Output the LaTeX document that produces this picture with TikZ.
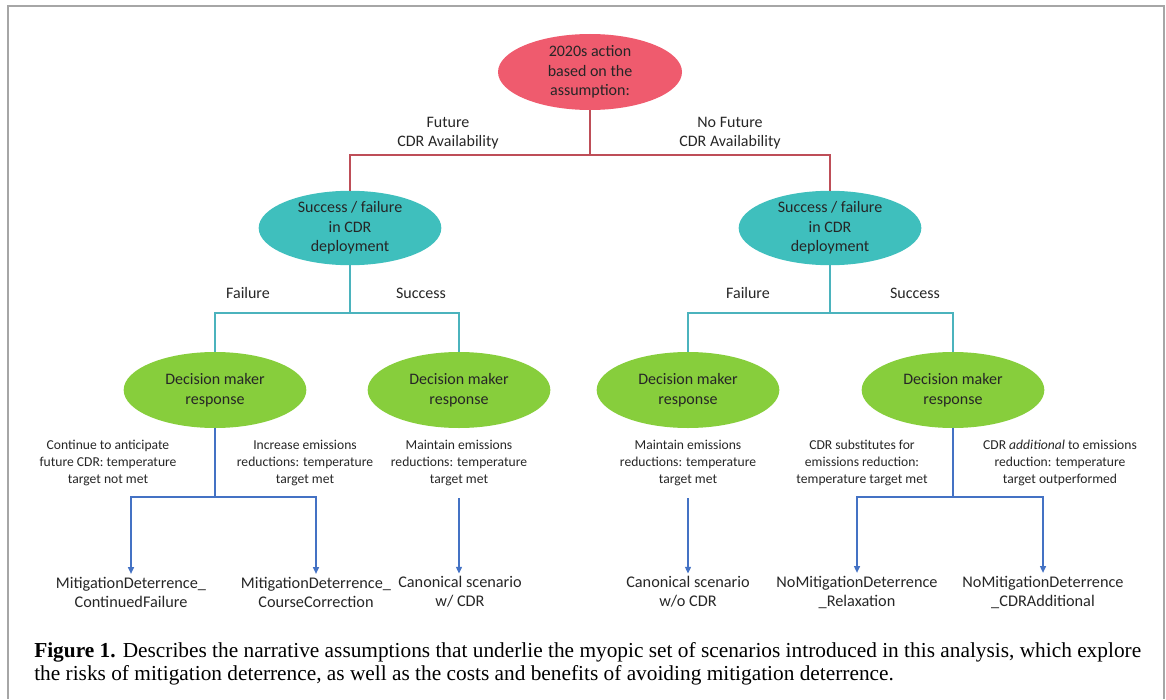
\documentclass[tikz,border=0pt]{standalone}
\usepackage{fontspec}
\setmainfont{Carlito}
\newfontfamily\capfont{Liberation Serif}
\usetikzlibrary{shapes.geometric,arrows.meta}

\definecolor{rosered}{HTML}{EF5B6E}
\definecolor{tealfill}{HTML}{3FBFBD}
\definecolor{leaf}{HTML}{87CE3C}
\definecolor{redline}{HTML}{BE4E58}
\definecolor{tealline}{HTML}{4BB3BD}
\definecolor{blueline}{HTML}{4472C4}
\definecolor{txtgray}{HTML}{262626}
\definecolor{framegray}{HTML}{A6A6A6}

\newcommand{\mainsz}{\fontsize{12}{14.6}\selectfont}
\newcommand{\smallsz}{\fontsize{10.2}{12.75}\selectfont}
\newcommand{\outsz}{\fontsize{12.2}{14.3}\selectfont}

\begin{document}
\begin{tikzpicture}[x=0.75pt,y=-0.75pt,
    bubble/.style={ellipse, minimum width=137pt, minimum height=57pt, align=center, font=\mainsz},
    lbl/.style={align=center, font=\mainsz},
    note/.style={align=center, font=\smallsz},
    outcome/.style={align=center, font=\outsz},
    redconn/.style={redline, line width=0.8pt},
    tealconn/.style={tealline, line width=0.8pt},
    blueconn/.style={blueline, line width=0.8pt},
    bluearrow/.style={blueline, line width=0.8pt, -{Triangle[length=5pt,width=4.5pt]}, shorten >=2pt}]
    \tikzstyle{every node}+=[inner sep=0pt, text=txtgray]
    \useasboundingbox (0,0) rectangle (1166,699);
    \draw [framegray, line width=0.8pt] (8,699) -- (8,6) -- (1164,6) -- (1164,699);

    % top level
    \node [bubble, fill=rosered, minimum width=138pt] (act) at (590,72) {2020s action\\based on the\\assumption:};
    \coordinate (jtop) at (590,155);
    \node [lbl] (fut) at (448,133) {Future\\CDR Availability};
    \node [lbl] (nofut) at (730,133) {No Future\\CDR Availability};

    % CDR deployment
    \node [bubble, fill=tealfill, minimum height=53pt] (cdrL) at (350,228) {Success / failure\\in CDR\\deployment};
    \node [bubble, fill=tealfill, minimum height=53pt] (cdrR) at (830,228) {Success / failure\\in CDR\\deployment};
    \draw [redconn] (act.south) -- (jtop) -| (cdrL.north);
    \draw [redconn] (jtop) -| (cdrR.north);

    \node [lbl] (failL) at (248,293) {Failure};
    \node [lbl] (succL) at (421,293) {Success};
    \node [lbl] (failR) at (748,293) {Failure};
    \node [lbl] (succR) at (915,293) {Success};

    % decision makers
    \node [bubble, fill=leaf] (dmA) at (215,390) {Decision maker\\response};
    \node [bubble, fill=leaf] (dmB) at (459,390) {Decision maker\\response};
    \node [bubble, fill=leaf] (dmC) at (688,390) {Decision maker\\response};
    \node [bubble, fill=leaf] (dmD) at (953,390) {Decision maker\\response};
    \coordinate (jL) at (350,313);
    \coordinate (jR) at (830,313);
    \draw [tealconn] (cdrL.south) -- (jL) -| (dmA.north);
    \draw [tealconn] (jL) -| (dmB.north);
    \draw [tealconn] (cdrR.south) -- (jR) -| (dmC.north);
    \draw [tealconn] (jR) -| (dmD.north);

    % responses
    \node [note] (st1) at (108,463) {Continue to anticipate\\future CDR: temperature\\target not met};
    \node [note] (st2) at (305,463) {Increase emissions\\reductions: temperature\\target met};
    \node [note] (st3) at (459,463) {Maintain emissions\\reductions: temperature\\target met};
    \node [note] (st4) at (688,463) {Maintain emissions\\reductions: temperature\\target met};
    \node [note] (st5) at (862,463) {CDR substitutes for\\emissions reduction:\\temperature target met};
    \node [note] (st6) at (1060,463) {CDR \textit{additional} to emissions\\reduction: temperature\\target outperformed};

    % scenarios
    \node [outcome] (out1) at (131,592) {MitigationDeterrence\_\\ContinuedFailure};
    \node [outcome] (out2) at (316,592) {MitigationDeterrence\_\\CourseCorrection};
    \node [outcome] (out3) at (460,592) {Canonical scenario\\w/ CDR};
    \node [outcome] (out4) at (688,592) {Canonical scenario\\w/o CDR};
    \node [outcome] (out5) at (857,592) {NoMitigationDeterrence\\\_Relaxation};
    \node [outcome] (out6) at (1043,592) {NoMitigationDeterrence\\\_CDRAdditional};

    \coordinate (jA) at (215,497);
    \coordinate (jD) at (953,497);
    \draw [blueconn] (dmA.south) -- (jA);
    \draw [bluearrow] (jA) -| (out1.north);
    \draw [bluearrow] (jA) -| (out2.north);
    \draw [bluearrow, shorten <=9pt] (st3.south) -- (st3.south |- out3.north);
    \draw [bluearrow, shorten <=9pt] (st4.south) -- (st4.south |- out4.north);
    \draw [blueconn] (dmD.south) -- (jD);
    \draw [bluearrow] (jD) -| (out5.north);
    \draw [bluearrow] (jD) -| (out6.north);

    % caption
    \node [anchor=north west, align=left, text=black, font=\capfont\fontsize{16}{17.25}\selectfont] (cap) at (34,642)
        {\textbf{Figure 1.} Describes the narrative assumptions that underlie the myopic set of scenarios introduced in this analysis, which explore\\the risks of mitigation deterrence, as well as the costs and benefits of avoiding mitigation deterrence.};
\end{tikzpicture}
\end{document}
